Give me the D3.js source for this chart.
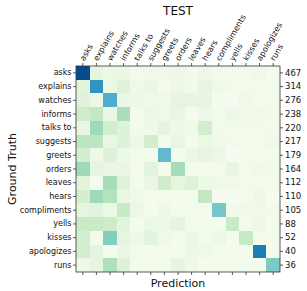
<!DOCTYPE html>
<html>
<head>
<meta charset="utf-8">
<script src="https://cdn.jsdelivr.net/npm/d3@7"></script>
<style>
  html, body { margin: 0; padding: 0; background: #fff; }
  svg { display: block; font-family: "DejaVu Sans", sans-serif; }
</style>
</head>
<body>
<svg id="chart" width="307" height="291"></svg>
<script>
const categories = ["asks", "explains", "watches", "informs", "talks to", "suggests", "greets", "orders", "leaves", "hears", "compliments", "yells", "kisses", "apologizes", "runs"];
const rowCounts = [467, 314, 276, 238, 220, 217, 179, 164, 112, 110, 105, 88, 52, 40, 36];
// row-normalised confusion (ground truth rows, prediction columns)
const values = [
  [0.97, 0.10, 0.06, 0.07, 0.03, 0.04, 0.04, 0.05, 0.03, 0.05, 0.03, 0.03, 0.03, 0.04, 0.02],
  [0.12, 0.73, 0.06, 0.13, 0.04, 0.07, 0.02, 0.05, 0.03, 0.10, 0.04, 0.03, 0.03, 0.03, 0.02],
  [0.13, 0.06, 0.63, 0.07, 0.05, 0.04, 0.04, 0.10, 0.09, 0.09, 0.02, 0.01, 0.04, 0.02, 0.03],
  [0.22, 0.27, 0.07, 0.36, 0.02, 0.06, 0.04, 0.08, 0.02, 0.05, 0.03, 0.05, 0.04, 0.04, 0.03],
  [0.08, 0.40, 0.20, 0.14, 0.03, 0.04, 0.10, 0.04, 0.03, 0.20, 0.03, 0.03, 0.03, 0.03, 0.03],
  [0.30, 0.30, 0.07, 0.14, 0.06, 0.20, 0.03, 0.08, 0.02, 0.06, 0.04, 0.03, 0.03, 0.03, 0.04],
  [0.20, 0.05, 0.14, 0.05, 0.03, 0.02, 0.58, 0.02, 0.07, 0.10, 0.06, 0.01, 0.03, 0.02, 0.02],
  [0.40, 0.10, 0.07, 0.08, 0.02, 0.12, 0.03, 0.38, 0.03, 0.03, 0.03, 0.08, 0.03, 0.04, 0.03],
  [0.12, 0.02, 0.37, 0.13, 0.02, 0.07, 0.22, 0.10, 0.14, 0.05, 0.04, 0.04, 0.03, 0.03, 0.03],
  [0.20, 0.40, 0.33, 0.07, 0.04, 0.03, 0.02, 0.02, 0.02, 0.27, 0.01, 0.01, 0.02, 0.05, 0.01],
  [0.10, 0.12, 0.06, 0.25, 0.06, 0.02, 0.05, 0.02, 0.03, 0.03, 0.52, 0.03, 0.04, 0.04, 0.03],
  [0.25, 0.25, 0.23, 0.12, 0.02, 0.06, 0.05, 0.10, 0.02, 0.02, 0.02, 0.25, 0.02, 0.05, 0.02],
  [0.20, 0.03, 0.48, 0.10, 0.05, 0.12, 0.04, 0.02, 0.06, 0.03, 0.06, 0.02, 0.26, 0.02, 0.02],
  [0.20, 0.10, 0.02, 0.08, 0.03, 0.03, 0.03, 0.03, 0.06, 0.04, 0.02, 0.03, 0.02, 0.80, 0.02],
  [0.04, 0.10, 0.35, 0.14, 0.02, 0.03, 0.03, 0.10, 0.04, 0.02, 0.02, 0.03, 0.02, 0.02, 0.50]
];
const title = "TEST";
const xTitle = "Prediction";
const yTitle = "Ground Truth";

const svg = d3.select("#chart");
const mLeft = 76, mRight = 280, mTop = 66, mBottom = 272;

const x = d3.scaleBand().domain(categories).range([mLeft, mRight]).padding(0);
const y = d3.scaleBand().domain(categories).range([mTop, mBottom]).padding(0);
const color = d3.scaleSequential(d3.interpolateGnBu).domain([0, 1]);

const cells = [];
values.forEach((row, i) => row.forEach((v, j) => cells.push({r: categories[i], c: categories[j], v})));

svg.append("g").selectAll("rect").data(cells).join("rect")
  .attr("x", d => x(d.c))
  .attr("y", d => y(d.r))
  .attr("width", x.bandwidth() + 0.3)
  .attr("height", y.bandwidth() + 0.3)
  .attr("fill", d => color(d.v))
  .attr("shape-rendering", "crispEdges");

// frame
svg.append("rect")
  .attr("x", mLeft).attr("y", mTop)
  .attr("width", mRight - mLeft).attr("height", mBottom - mTop)
  .attr("fill", "none").attr("stroke", "#333").attr("stroke-width", 0.8);

function styleAxis(g) {
  g.select(".domain").remove();
  g.selectAll(".tick line").attr("stroke", "#333").attr("stroke-width", 0.8);
  g.selectAll("text").attr("fill", "#111").attr("font-family", "DejaVu Sans, sans-serif");
}

// left axis
svg.append("g").attr("transform", `translate(${mLeft},0)`)
  .call(d3.axisLeft(y).tickSize(3).tickPadding(1.5))
  .call(styleAxis)
  .selectAll("text").attr("font-size", 8);

// right axis with counts
svg.append("g").attr("transform", `translate(${mRight},0)`)
  .call(d3.axisRight(y).tickSize(3).tickPadding(2).tickFormat((d, i) => rowCounts[i]))
  .call(styleAxis)
  .selectAll("text").attr("font-size", 8.5);

// bottom ticks
svg.append("g").attr("transform", `translate(0,${mBottom})`)
  .call(d3.axisBottom(x).tickSize(3).tickFormat(""))
  .call(styleAxis);

// top ticks and rotated labels
const topAxis = svg.append("g").attr("transform", `translate(0,${mTop})`)
  .call(d3.axisTop(x).tickSize(3).tickPadding(0))
  .call(styleAxis);
topAxis.selectAll("text")
  .attr("font-size", 8)
  .attr("text-anchor", "start")
  .attr("dy", 0)
  .attr("transform", "translate(4,-3) rotate(-60)");

// titles
svg.append("text").attr("x", (mLeft + mRight) / 2).attr("y", 15)
  .attr("text-anchor", "middle").attr("font-size", 12).attr("fill", "#111").text(title);
svg.append("text").attr("x", (mLeft + mRight) / 2).attr("y", 287)
  .attr("text-anchor", "middle").attr("font-size", 11).attr("fill", "#111").text(xTitle);
svg.append("text").attr("transform", `translate(16,${(mTop + mBottom) / 2}) rotate(-90)`)
  .attr("text-anchor", "middle").attr("font-size", 11).attr("fill", "#111").text(yTitle);
</script>
</body>
</html>
